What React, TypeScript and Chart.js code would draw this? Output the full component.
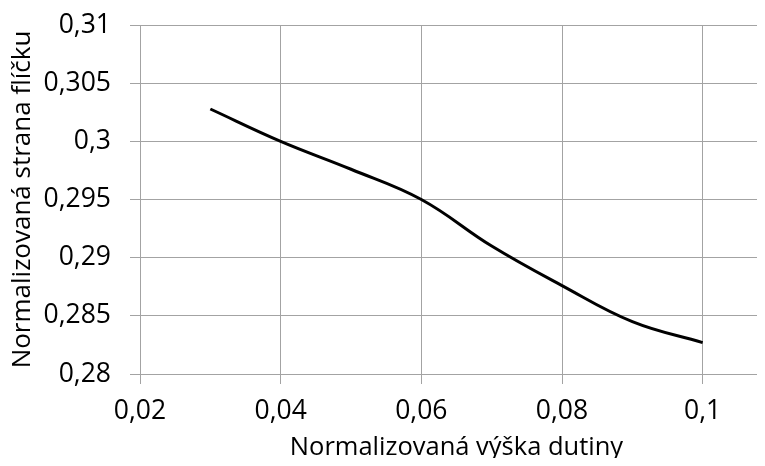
import React, { useEffect, useRef } from "react";
import { Chart, registerables } from "chart.js";

Chart.register(...registerables);

const xValues = [0.03, 0.04, 0.05, 0.06, 0.07, 0.08, 0.09, 0.1];
const yValues = [0.30278, 0.3, 0.2976, 0.2950, 0.2910, 0.2876, 0.2845, 0.2827];
const xTickValues = [0.02, 0.04, 0.06, 0.08, 0.1];
const yTickValues = [0.28, 0.285, 0.29, 0.295, 0.3, 0.305, 0.31];
const xTitle = "Normalizovaná výška dutiny";
const yTitle = "Normalizovaná strana flíčku";

const fmt = (v: number) => String(Number(v.toFixed(4))).replace(".", ",");

export default function App() {
  const ref = useRef<HTMLCanvasElement | null>(null);
  useEffect(() => {
    if (!ref.current) return;
    const grid = "#a3a3a3";
    const font = "'Open Sans', 'Liberation Sans', sans-serif";
    const chart = new Chart(ref.current, {
      type: "scatter",
      data: {
        datasets: [
          {
            data: xValues.map((x, i) => ({ x, y: yValues[i] })),
            showLine: true,
            borderColor: "#000000",
            borderWidth: 3,
            tension: 0.4,
            pointRadius: 0,
            fill: false,
          },
        ],
      },
      options: {
        responsive: false,
        animation: false,
        layout: { padding: { top: 25, right: 17, left: 0, bottom: 0 } },
        plugins: { legend: { display: false }, tooltip: { enabled: false } },
        scales: {
          x: {
            type: "linear",
            min: 0.02,
            max: 0.11,
            afterBuildTicks: (s: any) => { s.ticks = xTickValues.map((value) => ({ value })); },
            afterFit: (s: any) => {
              s.height = 92;
              s.paddingLeft = 0;
              s.paddingRight = 0;
            },
            ticks: {
              color: "#000",
              font: { family: font, size: 26.5 },
              padding: 12,
              maxRotation: 0,
              callback: (v: any) => fmt(Number(v)),
            },
            grid: { color: grid, lineWidth: 1, tickLength: 10, tickColor: grid },
            border: { color: grid, width: 1 },
            title: {
              display: true,
              text: xTitle,
              color: "#000",
              font: { family: font, size: 25.5 },
              padding: { top: 0, bottom: 3 },
            },
          },
          y: {
            type: "linear",
            min: 0.28,
            max: 0.31,
            afterBuildTicks: (s: any) => { s.ticks = yTickValues.map((value) => ({ value })); },
            afterFit: (s: any) => {
              s.width = 140;
              s.paddingTop = 0;
              s.paddingBottom = 0;
            },
            ticks: {
              color: "#000",
              font: { family: font, size: 26.5 },
              padding: 19,
              callback: (v: any) => fmt(Number(v)),
            },
            grid: { color: grid, lineWidth: 1, tickLength: 10, tickColor: grid },
            border: { color: grid, width: 1 },
            title: {
              display: true,
              text: yTitle,
              color: "#000",
              font: { family: font, size: 26 },
              padding: { top: 7, bottom: 0 },
            },
          },
        },
      },
    });
    return () => chart.destroy();
  }, []);
  return (
    <div style={{ margin: -8, width: 765, height: 466, overflow: "hidden", background: "#fff" }}>
      <canvas ref={ref} width={790} height={466} />
    </div>
  );
}
